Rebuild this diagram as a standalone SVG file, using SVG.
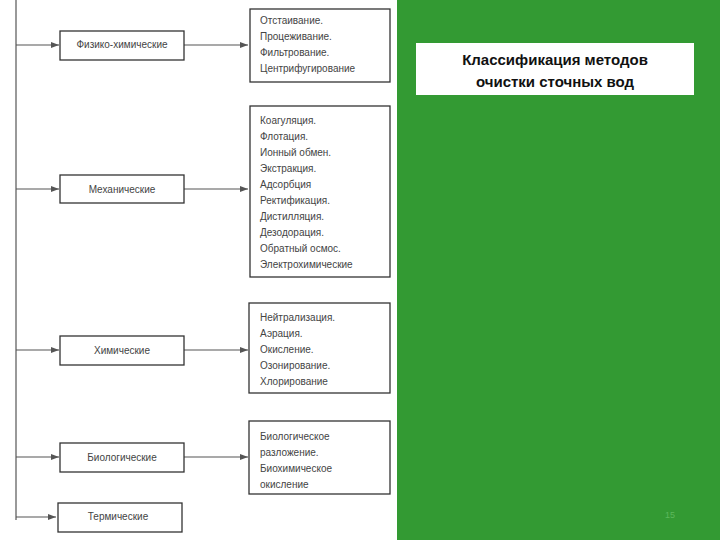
<svg xmlns="http://www.w3.org/2000/svg" width="720" height="540" viewBox="0 0 720 540">
<defs>
<marker id="ar" markerWidth="8" markerHeight="6" refX="8" refY="3" orient="auto" markerUnits="userSpaceOnUse"><path d="M0,0 L8,3 L0,6 Z" fill="#555"/></marker>
<style>
.bx{fill:#fff;stroke:#333;stroke-width:1.3}
.t{font-family:"Liberation Sans",Arial,sans-serif;font-size:10px;fill:#444}
.c{stroke:#555;stroke-width:1.2;fill:none}
.h{font-family:"Liberation Sans",Arial,sans-serif;font-size:15px;font-weight:bold;fill:#111}
</style>
</defs>
<rect width="720" height="540" fill="#fff"/>
<rect x="397" y="0" width="323" height="540" fill="#339a33"/>
<g id="title"><rect x="416" y="43" width="278" height="52" fill="#fff"/>
<text class="h" x="555" y="65" text-anchor="middle">Классификация методов</text>
<text class="h" x="555" y="87" text-anchor="middle">очистки сточных вод</text></g>
<text x="670" y="518" text-anchor="middle" font-family="Liberation Sans,Arial,sans-serif" font-size="9" fill="#5cb85c">15</text>
<g id="connectors">
<line class="c" x1="16" y1="0" x2="16" y2="520"/>
<line class="c" x1="16" y1="45" x2="59" y2="45" marker-end="url(#ar)"/>
<line class="c" x1="16" y1="189" x2="59" y2="189" marker-end="url(#ar)"/>
<line class="c" x1="16" y1="350" x2="59" y2="350" marker-end="url(#ar)"/>
<line class="c" x1="16" y1="457" x2="59" y2="457" marker-end="url(#ar)"/>
<line class="c" x1="16" y1="517" x2="56" y2="517" marker-end="url(#ar)"/>
<line class="c" x1="184" y1="45" x2="248" y2="45" marker-end="url(#ar)"/>
<line class="c" x1="184" y1="189" x2="248" y2="189" marker-end="url(#ar)"/>
<line class="c" x1="184" y1="350" x2="248" y2="350" marker-end="url(#ar)"/>
<line class="c" x1="184" y1="457" x2="248" y2="457" marker-end="url(#ar)"/>
</g>
<g id="n1"><rect class="bx" x="60" y="31" width="124" height="29"/><text class="t" x="122" y="48" text-anchor="middle">Физико-химические</text></g>
<g id="n2"><rect class="bx" x="60" y="175" width="124" height="28"/><text class="t" x="122" y="193" text-anchor="middle">Механические</text></g>
<g id="n3"><rect class="bx" x="60" y="336" width="124" height="29"/><text class="t" x="122" y="354" text-anchor="middle">Химические</text></g>
<g id="n4"><rect class="bx" x="60" y="443" width="124" height="29"/><text class="t" x="122" y="461" text-anchor="middle">Биологические</text></g>
<g id="n5"><rect class="bx" x="58" y="503" width="124" height="29"/><text class="t" x="118" y="520" text-anchor="middle">Термические</text></g>
<g id="r1"><rect class="bx" x="250" y="9" width="140" height="73"/>
<text class="t" x="260" y="24">Отстаивание.</text><text class="t" x="260" y="40">Процеживание.</text><text class="t" x="260" y="56">Фильтрование.</text><text class="t" x="260" y="72">Центрифугирование</text></g>
<g id="r2"><rect class="bx" x="250" y="106" width="140" height="171"/>
<text class="t" x="260" y="124">Коагуляция.</text><text class="t" x="260" y="140">Флотация.</text><text class="t" x="260" y="156">Ионный обмен.</text><text class="t" x="260" y="172">Экстракция.</text><text class="t" x="260" y="188">Адсорбция</text><text class="t" x="260" y="204">Ректификация.</text><text class="t" x="260" y="220">Дистилляция.</text><text class="t" x="260" y="236">Дезодорация.</text><text class="t" x="260" y="252">Обратный осмос.</text><text class="t" x="260" y="268">Электрохимические</text></g>
<g id="r3"><rect class="bx" x="249" y="303" width="141" height="90"/>
<text class="t" x="260" y="321">Нейтрализация.</text><text class="t" x="260" y="337">Аэрация.</text><text class="t" x="260" y="353">Окисление.</text><text class="t" x="260" y="369">Озонирование.</text><text class="t" x="260" y="385">Хлорирование</text></g>
<g id="r4"><rect class="bx" x="249" y="421" width="141" height="73"/>
<text class="t" x="260" y="440">Биологическое</text><text class="t" x="260" y="456">разложение.</text><text class="t" x="260" y="472">Биохимическое</text><text class="t" x="260" y="488">окисление</text></g>
</svg>
